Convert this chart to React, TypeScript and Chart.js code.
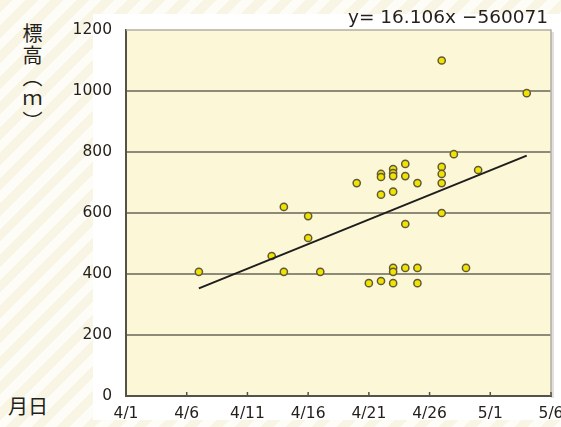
import React, { useEffect, useRef } from "react";
import { Chart, registerables } from "chart.js";

Chart.register(...registerables);

const xTickLabels = ["4/1", "4/6", "4/11", "4/16", "4/21", "4/26", "5/1", "5/6"];
const yTicks = [0, 200, 400, 600, 800, 1000, 1200];
// days since 4/1
const dayOffsets = [6, 12, 13, 13, 15, 15, 16, 19, 20, 21, 21, 21, 21, 22, 22, 22, 22, 22, 22, 22, 23, 23, 23, 23, 24, 24, 24, 26, 26, 26, 26, 26, 27, 28, 29, 33];
const elevations = [407, 459, 620, 407, 590, 518, 407, 698, 370, 377, 728, 718, 660, 744, 731, 721, 670, 420, 407, 370, 761, 721, 564, 420, 698, 420, 370, 1100, 751, 728, 698, 600, 793, 420, 741, 993];
const trendX = [6, 33];
const trendY = [353, 788];
const equationText = "y= 16.106x \u2212560071";
const yAxisTitle = "標高（ｍ）";
const xAxisTitle = "月日";

const FONT = "'DejaVu Sans', sans-serif";

export default function App() {
  const ref = useRef<HTMLCanvasElement>(null);

  useEffect(() => {
    const canvas = ref.current!;
    const decor = {
      id: "decor",
      beforeDraw(chart: any) {
        const { ctx, chartArea: a } = chart;
        ctx.save();
        ctx.fillStyle = "rgba(120,115,100,0.22)";
        ctx.fillRect(a.right, a.top + 2, 3, a.bottom - a.top);
        ctx.fillStyle = "#fcf7d7";
        ctx.fillRect(a.left, a.top, a.right - a.left, a.bottom - a.top);
        ctx.restore();
      },
      afterDraw(chart: any) {
        const { ctx, chartArea: a, scales } = chart;
        ctx.save();
        ctx.strokeStyle = "#b3afa3";
        ctx.lineWidth = 1.5;
        ctx.beginPath();
        ctx.moveTo(a.left, a.top);
        ctx.lineTo(a.right, a.top);
        ctx.lineTo(a.right, a.bottom);
        ctx.stroke();
        ctx.strokeStyle = "#55524a";
        ctx.lineWidth = 1.5;
        const xs = scales.x;
        xs.ticks.forEach((t: any) => {
          const px = xs.getPixelForValue(t.value);
          ctx.beginPath();
          ctx.moveTo(px, a.bottom);
          ctx.lineTo(px, a.bottom - 4);
          ctx.stroke();
        });
        ctx.fillStyle = "#231f1a";
        ctx.font = `18.5px ${FONT}`;
        ctx.textAlign = "right";
        ctx.textBaseline = "alphabetic";
        ctx.fillText(equationText, 548, 23);
        ctx.restore();
      },
    };

    const chart = new Chart(canvas, {
      type: "scatter",
      data: {
        datasets: [
          {
            type: "line",
            data: trendX.map((x, i) => ({ x, y: trendY[i] })),
            borderColor: "#1e1e1e",
            borderWidth: 2,
            pointRadius: 0,
            fill: false,
          } as any,
          {
            data: dayOffsets.map((x, i) => ({ x, y: elevations[i] })),
            backgroundColor: "#f2e200",
            borderColor: "#5e5a3a",
            borderWidth: 1.5,
            pointRadius: 3.6,
          },
        ],
      },
      plugins: [decor],
      options: {
        animation: false,
        responsive: false,
        events: [],
        layout: { padding: { left: 0, top: 30, right: 10, bottom: 0 } },
        plugins: { legend: { display: false }, tooltip: { enabled: false } },
        scales: {
          x: {
            type: "linear",
            min: 0,
            max: 35,
            afterFit: (s: any) => {
              s.height = 31;
              s.paddingLeft = 0;
              s.paddingRight = 0;
            },
            afterBuildTicks: (s: any) => { s.ticks = xTickLabels.map((_, i) => ({ value: i * 5 })); },
            ticks: {
              autoSkip: false,
              maxRotation: 0,
              padding: 9,
              color: "#231f1a",
              font: { family: FONT, size: 15.5 },
              callback: (v: any) => xTickLabels[Math.round(Number(v) / 5)] ?? "",
            },
            grid: { display: false, drawTicks: false },
            border: { display: true, color: "#55524a", width: 2 },
          },
          y: {
            min: 0,
            max: 1200,
            afterFit: (s: any) => {
              s.width = 126;
              s.paddingTop = 0;
              s.paddingBottom = 0;
            },
            afterBuildTicks: (s: any) => { s.ticks = yTicks.map((v) => ({ value: v })); },
            ticks: {
              padding: 14,
              color: "#231f1a",
              font: { family: FONT, size: 15.5 },
              callback: (v: any) => String(v),
            },
            grid: {
              drawTicks: false,
              color: (c: any) => (c.tick && (c.tick.value === 0 || c.tick.value === 1200) ? "rgba(0,0,0,0)" : "#8e8a78"),
              lineWidth: 2,
            },
            border: { display: true, color: "#55524a", width: 2 },
          },
        },
      },
    });
    return () => chart.destroy();
  }, []);

  return (
    <div
      style={{
        position: "fixed",
        left: 0,
        top: 0,
        width: 561,
        height: 427,
        overflow: "hidden",
        background:
          "repeating-linear-gradient(135deg, #f9f5e5 0px, #f9f5e5 9px, #fefcf6 9px, #fefcf6 18px)",
      }}
    >
      <div style={{ position: "absolute", left: 93, top: 14, right: 0, bottom: 7, background: "#ffffff" }} />
      <div
        style={{
          position: "absolute",
          left: 22,
          top: 23,
          writingMode: "vertical-rl",
          fontFamily: "'Noto Sans CJK JP', sans-serif",
          fontSize: 20,
          letterSpacing: 2,
          lineHeight: 1,
          color: "#231f1a",
        }}
      >
        {yAxisTitle}
      </div>
      <div
        style={{
          position: "absolute",
          left: 8,
          top: 395,
          fontFamily: "'Noto Sans CJK JP', sans-serif",
          fontSize: 20,
          lineHeight: 1.1,
          color: "#231f1a",
        }}
      >
        {xAxisTitle}
      </div>
      <canvas ref={ref} width={561} height={427} style={{ position: "absolute", left: 0, top: 0 }} />
    </div>
  );
}
